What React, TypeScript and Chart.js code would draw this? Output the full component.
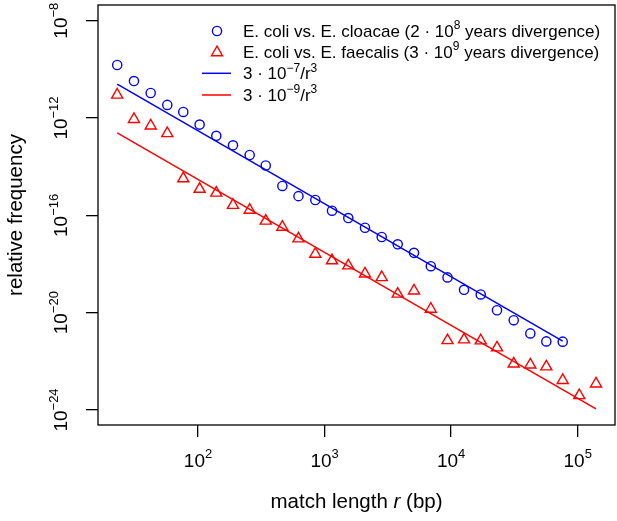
import { useEffect, useRef } from 'react';
import { Chart, registerables } from 'chart.js';

Chart.register(...registerables);

const FONT = '"Liberation Sans", Arial, sans-serif';

// match length bins (bp)
const matchLength = [
  23, 31.2, 42.3, 57.2, 76.5, 103, 139.5, 189, 256, 343, 464, 622, 845, 1145, 1540,
  2086, 2828, 3783, 5088, 6908, 9361, 12640, 17125, 23030, 31210, 42220, 56480, 76100,
  102900, 139500,
];

// E. coli vs. E. cloacae
const cloacaeFreq = [
  1.51e-10, 3.31e-11, 1.07e-11, 3.47e-12, 1.78e-12, 5.37e-13, 1.86e-13, 7.59e-14,
  3.02e-14, 1.12e-14, 1.62e-15, 6.17e-16, 4.27e-16, 1.55e-16, 7.76e-17, 3.09e-17,
  1.29e-17, 6.46e-18, 2.88e-18, 8.13e-19, 2.82e-19, 8.71e-20, 5.62e-20, 1.26e-20,
  4.9e-21, 1.41e-21, 6.61e-22, 6.46e-22,
];

// E. coli vs. E. faecalis
const faecalisFreq = [
  8.91e-12, 8.91e-13, 4.79e-13, 2.34e-13, 3.24e-15, 1.2e-15, 8.32e-16, 2.63e-16,
  1.66e-16, 5.89e-17, 3.31e-17, 1.1e-17, 2.57e-18, 1.38e-18, 8.51e-19, 3.98e-19,
  2.82e-19, 5.89e-20, 7.94e-20, 1.41e-20, 7.24e-22, 7.76e-22, 7.08e-22, 3.63e-22,
  7.94e-23, 7.24e-23, 6.03e-23, 1.66e-23, 3.98e-24, 1.2e-23,
];

// 3e-7 / r^3 and 3e-9 / r^3, end points
const cloacaeFitX = [23, 76100];
const cloacaeFitY = [2.466e-11, 6.81e-22];
const faecalisFitX = [23, 139500];
const faecalisFitY = [2.466e-13, 1.105e-24];

const xTicks = [1e2, 1e3, 1e4, 1e5];
const xTickExp = ['2', '3', '4', '5'];
const yTicks = [1e-8, 1e-12, 1e-16, 1e-20, 1e-24];
const yTickExp = ['\u22128', '\u221212', '\u221216', '\u221220', '\u221224'];

const BLUE = '#0000ff';
const RED = '#ff0000';

type Seg = { t: string; sup?: boolean; it?: boolean };

function drawSegs(
  ctx: CanvasRenderingContext2D,
  segs: Seg[],
  x: number,
  y: number,
  size: number,
  align: 'left' | 'center',
) {
  const fontOf = (s: Seg) =>
    `${s.it ? 'italic ' : ''}${s.sup ? Math.round(size * 0.7) : size}px ${FONT}`;
  const widths = segs.map((s) => {
    ctx.font = fontOf(s);
    return ctx.measureText(s.t).width;
  });
  const total = widths.reduce((a, b) => a + b, 0);
  let cx = align === 'center' ? x - total / 2 : x;
  ctx.textAlign = 'left';
  ctx.textBaseline = 'alphabetic';
  segs.forEach((s, i) => {
    ctx.font = fontOf(s);
    ctx.fillText(s.t, cx, s.sup ? y - size * 0.45 : y);
    cx += widths[i];
  });
}

function triangle(ctx: CanvasRenderingContext2D, x: number, y: number, r: number) {
  ctx.beginPath();
  for (let k = 0; k < 3; k++) {
    const a = (k * 2 * Math.PI) / 3;
    const px = x + Math.sin(a) * r;
    const py = y - Math.cos(a) * r;
    if (k === 0) ctx.moveTo(px, py);
    else ctx.lineTo(px, py);
  }
  ctx.closePath();
  ctx.stroke();
}

const annotations = {
  id: 'rStyle',
  afterDraw(chart: Chart) {
    const { ctx, chartArea: a } = chart;
    const xs = chart.scales.x;
    const ys = chart.scales.y;
    ctx.save();
    ctx.strokeStyle = '#000';
    ctx.lineWidth = 1.3;
    ctx.strokeRect(a.left, a.top, a.right - a.left, a.bottom - a.top);

    ctx.fillStyle = '#000';
    xTicks.forEach((v, i) => {
      drawSegs(ctx, [{ t: '10' }, { t: xTickExp[i], sup: true }], xs.getPixelForValue(v), 467, 19, 'center');
    });
    yTicks.forEach((v, i) => {
      ctx.save();
      ctx.translate(67, ys.getPixelForValue(v));
      ctx.rotate(-Math.PI / 2);
      drawSegs(ctx, [{ t: '10' }, { t: yTickExp[i], sup: true }], 0, 0, 19, 'center');
      ctx.restore();
    });

    drawSegs(ctx, [{ t: 'match length ' }, { t: 'r', it: true }, { t: ' (bp)' }], (a.left + a.right) / 2, 508, 20.5, 'center');
    ctx.save();
    ctx.translate(22, (a.top + a.bottom) / 2);
    ctx.rotate(-Math.PI / 2);
    drawSegs(ctx, [{ t: 'relative frequency' }], 0, 0, 20.5, 'center');
    ctx.restore();

    // legend
    const rows = [31, 52, 73.3, 95];
    const lx = 217;
    const tx = 243;
    ctx.lineWidth = 1.4;
    ctx.strokeStyle = BLUE;
    ctx.beginPath();
    ctx.arc(lx, rows[0], 4.6, 0, Math.PI * 2);
    ctx.stroke();
    ctx.strokeStyle = RED;
    triangle(ctx, lx, rows[1] + 0.5, 6.4);
    ctx.lineWidth = 1.5;
    ctx.strokeStyle = BLUE;
    ctx.beginPath();
    ctx.moveTo(202, rows[2]);
    ctx.lineTo(231, rows[2]);
    ctx.stroke();
    ctx.strokeStyle = RED;
    ctx.beginPath();
    ctx.moveTo(202, rows[3]);
    ctx.lineTo(231, rows[3]);
    ctx.stroke();

    ctx.fillStyle = '#000';
    const fs = 17;
    const base = fs * 0.36;
    drawSegs(ctx, [{ t: 'E. coli vs. E. cloacae (2 \u00b7 10' }, { t: '8', sup: true }, { t: ' years divergence)' }], tx, rows[0] + base, fs, 'left');
    drawSegs(ctx, [{ t: 'E. coli vs. E. faecalis (3 \u00b7 10' }, { t: '9', sup: true }, { t: ' years divergence)' }], tx, rows[1] + base, fs, 'left');
    drawSegs(ctx, [{ t: '3 \u00b7 10' }, { t: '\u22127', sup: true }, { t: '/r' }, { t: '3', sup: true }], tx, rows[2] + base, fs, 'left');
    drawSegs(ctx, [{ t: '3 \u00b7 10' }, { t: '\u22129', sup: true }, { t: '/r' }, { t: '3', sup: true }], tx, rows[3] + base, fs, 'left');
    ctx.restore();
  },
};

function MatchLengthChart() {
  const canvasRef = useRef<HTMLCanvasElement>(null);
  const chartRef = useRef<Chart | null>(null);

  useEffect(() => {
    if (!canvasRef.current) return;
    if (chartRef.current) chartRef.current.destroy();

    const pts = (xs: number[], ys: number[]) => ys.map((y, i) => ({ x: xs[i], y }));

    chartRef.current = new Chart(canvasRef.current, {
      type: 'scatter',
      data: {
        datasets: [
          {
            label: 'cloacae',
            data: pts(matchLength, cloacaeFreq),
            pointStyle: 'circle',
            pointRadius: 4.6,
            borderColor: BLUE,
            backgroundColor: 'rgba(0,0,0,0)',
            borderWidth: 1.4,
          },
          {
            label: 'faecalis',
            data: pts(matchLength, faecalisFreq),
            pointStyle: 'triangle',
            pointRadius: 6.4,
            borderColor: RED,
            backgroundColor: 'rgba(0,0,0,0)',
            borderWidth: 1.4,
          },
          {
            label: 'fit 3e-7',
            data: pts(cloacaeFitX, cloacaeFitY),
            showLine: true,
            pointRadius: 0,
            borderColor: BLUE,
            borderWidth: 1.5,
          },
          {
            label: 'fit 3e-9',
            data: pts(faecalisFitX, faecalisFitY),
            showLine: true,
            pointRadius: 0,
            borderColor: RED,
            borderWidth: 1.5,
          },
        ],
      },
      options: {
        animation: false,
        responsive: true,
        maintainAspectRatio: false,
        layout: { autoPadding: false, padding: { top: 5, right: 2, left: 0, bottom: 0 } },
        plugins: { legend: { display: false }, tooltip: { enabled: false } },
        scales: {
          x: {
            type: 'logarithmic',
            min: 16.22,
            max: 197000,
            bounds: 'data',
            afterBuildTicks: (s) => {
              s.ticks = xTicks.map((value) => ({ value }));
            },
            afterFit: (s) => {
              s.height = 96;
            },
            ticks: { display: false },
            border: { display: false },
            grid: { drawOnChartArea: false, tickLength: 12, color: '#000', lineWidth: 1.3 },
          },
          y: {
            type: 'logarithmic',
            min: 2.42e-25,
            max: 4.42e-8,
            bounds: 'data',
            afterBuildTicks: (s) => {
              s.ticks = yTicks.map((value) => ({ value }));
            },
            afterFit: (s) => {
              s.width = 98;
            },
            ticks: { display: false },
            border: { display: false },
            grid: { drawOnChartArea: false, tickLength: 12, color: '#000', lineWidth: 1.3 },
          },
        },
      },
      plugins: [annotations],
    });

    return () => {
      if (chartRef.current) {
        chartRef.current.destroy();
        chartRef.current = null;
      }
    };
  }, []);

  return (
    <div style={{ position: 'fixed', left: 0, top: 0, width: 617, height: 521, background: '#fff' }}>
      <canvas ref={canvasRef} />
    </div>
  );
}

export default function App() {
  return <MatchLengthChart />;
}
